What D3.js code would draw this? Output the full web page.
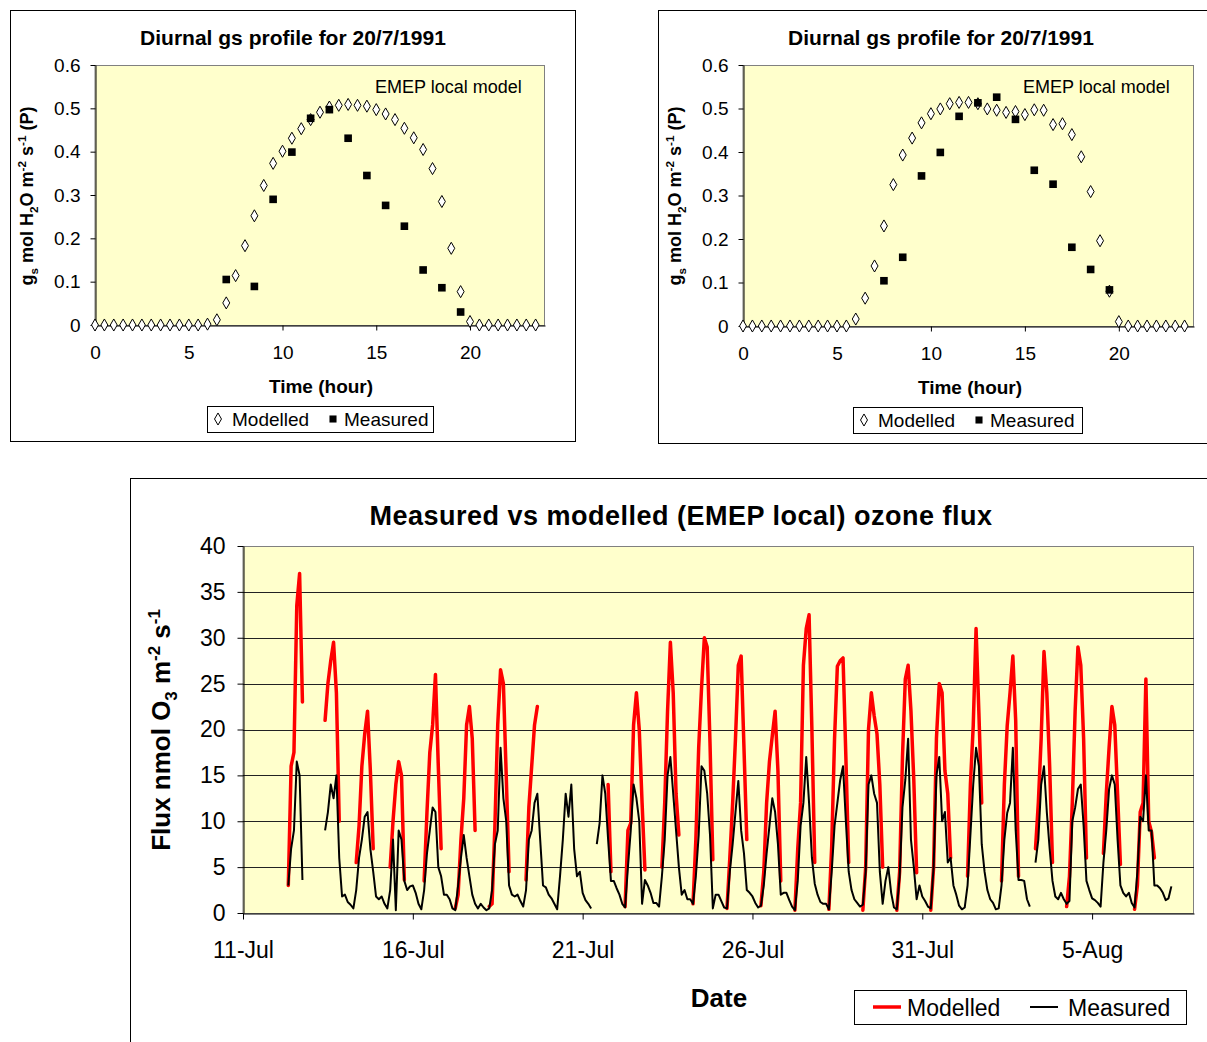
<!DOCTYPE html>
<html>
<head>
<meta charset="utf-8">
<script src="https://cdn.jsdelivr.net/npm/d3@7"></script>
<style>
body { margin: 0; background: #fff; }
text { font-family: Arial, "Liberation Sans", sans-serif; fill: #000; }
</style>
</head>
<body>
<svg id="chart" width="1207" height="1042"></svg>
<script>
var N = null;

// diurnal gs profile, 20/7/1991 (half hourly)
var hours = [0,0.5,1,1.5,2,2.5,3,3.5,4,4.5,5,5.5,6,6.5,7,7.5,8,8.5,9,9.5,10,10.5,11,11.5,
             12,12.5,13,13.5,14,14.5,15,15.5,16,16.5,17,17.5,18,18.5,19,19.5,20,20.5,21,21.5,22,22.5,23,23.5];
var modelledA = [0,0,0,0,0,0,0,0,0,0,0,0,
  0.002,0.012,0.051,0.114,0.183,0.252,0.322,0.373,0.401,0.431,0.453,0.474,
  0.491,0.503,0.507,0.509,0.507,0.505,0.497,0.487,0.474,0.454,0.432,0.405,
  0.361,0.285,0.177,0.077,0.008,0,0,0,0,0,0,0];
var measuredHoursA = [7,8.5,9.5,10.5,11.5,12.5,13.5,14.5,15.5,16.5,17.5,18.5,19.5];
var measuredA = [0.105,0.089,0.29,0.399,0.477,0.497,0.431,0.345,0.276,0.228,0.127,0.086,0.030];

var modelledB = [0,0,0,0,0,0,0,0,0,0,0,0,
  0.016,0.064,0.138,0.230,0.325,0.393,0.432,0.467,0.488,0.499,0.511,0.514,
  0.514,0.511,0.499,0.496,0.491,0.493,0.486,0.497,0.496,0.463,0.465,0.440,
  0.389,0.309,0.196,0.080,0.010,0,0,0,0,0,0,0];
var measuredHoursB = [7.5,8.5,9.5,10.5,11.5,12.5,13.5,14.5,15.5,16.5,17.5,18.5,19.5];
var measuredB = [0.104,0.158,0.345,0.399,0.482,0.513,0.526,0.475,0.358,0.326,0.181,0.130,0.083];

var gsTicksY = [0,0.1,0.2,0.3,0.4,0.5,0.6];
var gsTicksX = [0,5,10,15,20];

// ozone flux, 2-hourly from 11-Jul 00:00 (one row per day: 0h,2h,...,22h)
var fluxStart = "1991-07-11";
var modelledFlux = [
  N,N,N,N,N,N,N,N,N,N,N,N,
  N,N,N,N,3,16,17.5,33.5,37,23,N,N,
  N,N,N,N,N,21,25,27.5,29.5,24,10,N,
  N,N,N,N,5.5,9.5,16,19.5,22,15.5,7,N,
  N,N,N,N,5,10,14,16.5,15,3.6,N,N,
  N,N,N,N,3.5,11,17.5,20.5,26,16,7,N,
  N,N,N,0.5,2,8,12.5,20.5,22.5,19,9,N,
  N,N,N,0.7,1,9.5,20.5,26.5,25,15,4.5,N,
  N,N,N,N,3.6,11.5,16,20.5,22.5,N,N,N,
  N,N,N,N,N,N,N,N,N,N,N,N,
  N,N,N,N,N,N,N,N,N,14,4.5,N,
  N,N,N,0.7,9,9.8,20.5,24,20,12,4.7,N,
  N,N,N,N,5,12,22,29.5,24,13,8.5,N,
  N,N,N,1,8,18,24.5,30,29,18.5,5.8,N,
  N,N,N,0.5,6,12,19,27,28,18,8,N,
  N,N,N,0.8,4.5,12,16.5,19.3,22,15.5,3.5,N,
  N,N,N,0.3,7,12,27,31,32.5,20,5.5,N,
  N,N,N,0.4,7.3,19,26.9,27.5,27.8,17,5.5,N,
  N,N,N,0.3,5,20,24,21.5,19.5,14,5,N,
  N,N,N,0.3,4.5,17,25.5,27,22,14.5,4.4,N,
  N,N,N,0.3,5,19,25,24,15.5,13,6,N,
  N,N,N,N,4,14,20.4,31,21.8,12,N,N,
  N,N,N,N,3.5,14,20.4,24,28,21,4,N,
  N,N,N,N,7,12,19,28.5,24,16,5.5,N,
  N,N,N,0.7,4,12,22,29,27,19,6,N,
  N,N,N,N,6.5,13,18,22.5,20.5,13,5.3,N,
  N,N,N,0.4,3,11,12,25.5,10,8.8,6,N,
  N,N,N,N,N,N,N,N,N,N,N,N
];
var measuredFlux = [
  N,N,N,N,N,N,N,N,N,N,N,N,
  N,N,N,N,3,7,9,16.5,15,3.6,N,N,
  N,N,N,N,N,9,11,14,12.5,15,6,1.8,
  2,1.2,0.9,0.5,2.5,6,8,10.5,11,7,4.5,1.8,
  1.5,1.8,1,0.5,2.5,8,0.3,9,8,3.5,2.5,2.9,
  3,2.2,1,0.4,2.5,6.5,9,11.5,11,5,4,2,
  2,1.5,0.5,0.3,3,6,8.5,6,4,2,1,0.5,
  1,0.6,0.3,0.5,2.5,7.5,9,18,12.5,10,3,2,
  1.8,2,1.3,0.7,2.5,8,9,12,13,8,3,2.8,
  2,1.6,1,0.4,4,8,13,10.5,14,7,4,4.5,
  2.2,1.4,1,0.5,N,7.5,9.8,15,13,8,3.5,3.5,
  2.7,2,1,0.6,5,9,14,12.5,10,1,3.6,3,
  2.2,1.1,1.1,0.7,4,8,15,17,13,9,5,2,
  2.5,1.5,1.5,1,4,8.5,16,15.5,13,8.5,0.5,2,
  2,1.3,0.6,0.5,4.5,7.5,11,14.4,9,6.5,2.5,2.2,
  1.8,1.1,0.6,0.8,3,6.5,9.5,12.5,11,7.5,2,2.2,
  2.2,1.4,0.7,0.3,3.5,9.5,12,17,12,6,3.2,2,
  1.2,1,1,0.4,4.5,9.5,12,14.5,16,10,4.5,2.5,
  1.5,1.1,0.7,0.9,4.5,14,15,13,12,4.5,1,3.5,
  5,2.2,0.6,0.4,4,11.5,14.5,19,8,5,1.5,3,
  1.8,1.3,0.7,0.5,5,15,17,10,11,5.5,6,3,
  2,0.8,0.4,0.6,3,8.5,14,18,16,7.5,4.5,2.5,
  1.5,1.1,0.4,0.5,3,8,10.9,12,18,9,3.6,3.6,
  3.5,1.5,0.7,N,5.5,8,14,16,11,7,3.5,1.8,
  1.5,2.2,1.5,1,1.3,10,11.5,13.5,14,9.5,3.5,2.5,
  1.6,1.4,1.1,0.7,5.5,9,13.5,15,14,8,3,2.2,
  1.8,2.2,1.1,0.6,4.5,10.5,10,15,9,9,3,3,
  2.7,2.2,1.4,1.6,2.9,N,N,N,N,N,N,N
];
var fluxTicksY = [0,5,10,15,20,25,30,35,40];
var fluxTickDates = ["1991-07-11","1991-07-16","1991-07-21","1991-07-26","1991-07-31","1991-08-05"];
var fluxEnd = "1991-08-08";

var svg = d3.select("#chart");
svg.append("rect").attr("width", 1207).attr("height", 1042).attr("fill", "#fff");

function yTitle(g, cx, cy, size, parts) {
  var t = g.append("text")
    .attr("transform", "translate(" + cx + "," + cy + ") rotate(-90)")
    .attr("text-anchor", "middle")
    .style("font-size", size + "px").style("font-weight", "bold");
  parts.forEach(function(p) {
    var s = t.append("tspan").text(p[0]);
    if (p[1] == "sub") s.attr("dy", size * 0.25).style("font-size", (size * 0.65) + "px");
    if (p[1] == "sup") s.attr("dy", -size * 0.4).style("font-size", (size * 0.65) + "px");
    if (p[2]) s.attr("dy", p[2]);
  });
}

// top charts
function drawGs(c, modelled, mHours, measured) {
  var g = svg.append("g");
  g.append("rect").attr("x", c.box[0] + 0.5).attr("y", c.box[1] + 0.5)
    .attr("width", c.box[2]).attr("height", c.box[3])
    .attr("fill", "#fff").attr("stroke", "#000");

  var x = d3.scaleLinear().domain([0, 24]).range([c.left, c.right]);
  var y = d3.scaleLinear().domain([0, 0.6]).range([c.bottom, c.top]);

  g.append("rect").attr("x", c.left).attr("y", c.top + 0.5)
    .attr("width", c.right - c.left - 0.5).attr("height", c.bottom - c.top)
    .attr("fill", "#ffffcc").attr("stroke", "#808080");

  var ya = g.append("g").attr("transform", "translate(" + (c.left + 0.5) + ",0)")
    .call(d3.axisLeft(y).tickValues(gsTicksY).tickFormat(function(d) { return d; })
      .tickSize(5).tickSizeOuter(0).tickPadding(10));
  var xa = g.append("g").attr("transform", "translate(0," + (c.bottom + 0.5) + ")")
    .call(d3.axisBottom(x).tickValues(gsTicksX).tickFormat(function(d) { return d; })
      .tickSize(5).tickSizeOuter(0).tickPadding(15));
  [ya, xa].forEach(function(a) {
    a.selectAll("text").style("font-size", "19px").attr("fill", "#000");
    a.selectAll("path,line").attr("stroke", "#000");
  });

  g.append("g").selectAll("path").data(modelled).enter().append("path")
    .attr("d", d3.symbol().type(d3.symbolDiamond).size(42))
    .attr("transform", function(d, i) { return "translate(" + x(hours[i]) + "," + y(d) + ")"; })
    .attr("fill", "#fff").attr("stroke", "#000").attr("stroke-width", 1);
  g.append("g").selectAll("path").data(measured).enter().append("path")
    .attr("d", d3.symbol().type(d3.symbolSquare).size(58))
    .attr("transform", function(d, i) { return "translate(" + x(mHours[i]) + "," + y(d) + ")"; })
    .attr("fill", "#000");

  g.append("text").attr("x", c.titleX).attr("y", 45).attr("text-anchor", "middle")
    .style("font-size", "21px").style("font-weight", "bold")
    .text("Diurnal gs profile for 20/7/1991");
  g.append("text").attr("x", c.noteX).attr("y", 93).style("font-size", "18px")
    .text("EMEP local model");
  g.append("text").attr("x", c.xTitleX).attr("y", c.xTitleY).attr("text-anchor", "middle")
    .style("font-size", "19px").style("font-weight", "bold").text("Time (hour)");
  yTitle(g, c.yTitleX, 196, 18, [["g"], ["s", "sub"], [" mol H", null, -4.5], ["2", "sub"], ["O m", null, -4.5],
    ["-2", "sup"], [" s", null, 7.2], ["-1", "sup"], [" (P)", null, 7.2]]);

  var L = c.legend;
  g.append("rect").attr("x", L[0] + 0.5).attr("y", L[1] + 0.5).attr("width", L[2]).attr("height", L[3])
    .attr("fill", "#fff").attr("stroke", "#000");
  var ly = L[1] + L[3] / 2;
  g.append("path").attr("d", d3.symbol().type(d3.symbolDiamond).size(42))
    .attr("transform", "translate(" + (L[0] + 11) + "," + ly + ")")
    .attr("fill", "#fff").attr("stroke", "#000");
  g.append("text").attr("x", L[0] + 25).attr("y", ly + 7).style("font-size", "19px").text("Modelled");
  g.append("path").attr("d", d3.symbol().type(d3.symbolSquare).size(50))
    .attr("transform", "translate(" + (L[0] + 126) + "," + ly + ")").attr("fill", "#000");
  g.append("text").attr("x", L[0] + 137).attr("y", ly + 7).style("font-size", "19px").text("Measured");
}

drawGs({box: [10, 10, 565, 431], left: 95, right: 545, top: 65, bottom: 325,
  titleX: 293, noteX: 375, xTitleX: 321, xTitleY: 393, yTitleX: 33, legend: [207, 406, 226, 26]},
  modelledA, measuredHoursA, measuredA);
drawGs({box: [658, 10, 600, 433], left: 743, right: 1194, top: 65, bottom: 326,
  titleX: 941, noteX: 1023, xTitleX: 970, xTitleY: 394, yTitleX: 681, legend: [853, 407, 229, 26]},
  modelledB, measuredHoursB, measuredB);

// bottom chart
(function() {
  var left = 243, right = 1194, top = 546, bottom = 913;
  var g = svg.append("g");
  g.append("rect").attr("x", 130.5).attr("y", 478.5).attr("width", 1200).attr("height", 700)
    .attr("fill", "#fff").attr("stroke", "#000");

  var parse = d3.timeParse("%Y-%m-%d");
  var t0 = parse(fluxStart);
  var x = d3.scaleTime().domain([t0, parse(fluxEnd)]).range([left, right]);
  var y = d3.scaleLinear().domain([0, 40]).range([bottom, top]);
  var timeAt = function(i) { return d3.timeHour.offset(t0, 2 * i); };

  g.append("rect").attr("x", left).attr("y", top + 0.5)
    .attr("width", right - left - 0.5).attr("height", bottom - top)
    .attr("fill", "#ffffcc").attr("stroke", "#808080");
  g.append("g").selectAll("line").data(fluxTicksY.slice(1, -1)).enter().append("line")
    .attr("x1", left).attr("x2", right).attr("y1", function(d) { return Math.round(y(d)) + 0.5; })
    .attr("y2", function(d) { return Math.round(y(d)) + 0.5; })
    .attr("stroke", "#222").attr("stroke-width", 1);

  var ya = g.append("g").attr("transform", "translate(" + (left + 0.5) + ",0)")
    .call(d3.axisLeft(y).tickValues(fluxTicksY).tickSize(6).tickSizeOuter(0).tickPadding(12));
  var xa = g.append("g").attr("transform", "translate(0," + (bottom + 0.5) + ")")
    .call(d3.axisBottom(x).tickValues(fluxTickDates.map(parse)).tickFormat(d3.timeFormat("%-d-%b"))
      .tickSize(6).tickSizeOuter(0).tickPadding(22));
  [ya, xa].forEach(function(a) {
    a.selectAll("text").style("font-size", "23px").attr("fill", "#000");
    a.selectAll("path,line").attr("stroke", "#000");
  });

  var line = d3.line().defined(function(d) { return d != null; })
    .x(function(d, i) { return x(timeAt(i)); }).y(function(d) { return y(d); });
  g.append("path").datum(modelledFlux).attr("d", line).attr("fill", "none")
    .attr("stroke", "#ff0000").attr("stroke-width", 3.5).attr("stroke-linejoin", "round").attr("stroke-linecap", "round");
  g.append("path").datum(measuredFlux).attr("d", line).attr("fill", "none")
    .attr("stroke", "#000").attr("stroke-width", 2).attr("stroke-linejoin", "round");

  g.append("text").attr("x", 681).attr("y", 525).attr("text-anchor", "middle")
    .style("font-size", "27px").style("font-weight", "bold").style("letter-spacing", "0.5px")
    .text("Measured vs modelled (EMEP local) ozone flux");
  g.append("text").attr("x", 719).attr("y", 1007).attr("text-anchor", "middle")
    .style("font-size", "26px").style("font-weight", "bold").text("Date");
  yTitle(g, 170, 730, 26, [["Flux nmol O"], ["3", "sub"], [" m", null, -6.5], ["-2", "sup"], [" s", null, 10.4], ["-1", "sup"]]);

  g.append("rect").attr("x", 854.5).attr("y", 990.5).attr("width", 332).attr("height", 34)
    .attr("fill", "#fff").attr("stroke", "#000");
  g.append("line").attr("x1", 873).attr("x2", 901).attr("y1", 1007).attr("y2", 1007)
    .attr("stroke", "#ff0000").attr("stroke-width", 3.5);
  g.append("text").attr("x", 907).attr("y", 1016).style("font-size", "23px").text("Modelled");
  g.append("line").attr("x1", 1030).attr("x2", 1058).attr("y1", 1007).attr("y2", 1007)
    .attr("stroke", "#000").attr("stroke-width", 2);
  g.append("text").attr("x", 1068).attr("y", 1016).style("font-size", "23px").text("Measured");
})();
</script>
</body>
</html>
